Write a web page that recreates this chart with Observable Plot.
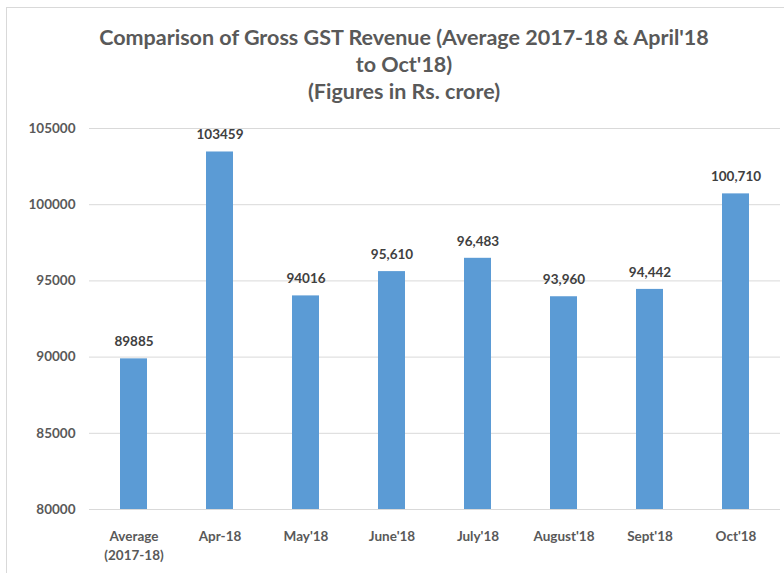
<!DOCTYPE html>
<html>
<head>
<meta charset="utf-8">
<script src="https://cdn.jsdelivr.net/npm/d3@7"></script>
<script src="https://cdn.jsdelivr.net/npm/@observablehq/plot@0.6"></script>
<style>
  html, body { margin: 0; padding: 0; background: #fff; }
  #frame { position: absolute; left: 6px; top: 7px; width: 800px; height: 600px; border-left: 1.5px solid #d9d9d9; border-top: 1.5px solid #d9d9d9; }
  #title { position: absolute; left: 0; top: 24px; width: 808px; text-align: center; font-family: Lato, sans-serif; font-weight: bold; font-size: 21.5px; line-height: 27px; color: #595959; }
  #chart { position: absolute; left: 0; top: 110px; }
</style>
</head>
<body>
<div id="frame"></div>
<div id="title">Comparison of Gross GST Revenue (Average 2017-18 &amp; April'18<br>to Oct'18)<br>(Figures in Rs. crore)</div>
<div id="chart"></div>
<script>
const categories = ["Average\n(2017-18)", "Apr-18", "May'18", "June'18", "July'18", "August'18", "Sept'18", "Oct'18"];
const values = [89885, 103459, 94016, 95610, 96483, 93960, 94442, 100710];
const valueLabels = ["89885", "103459", "94016", "95,610", "96,483", "93,960", "94,442", "100,710"];
const yTicks = [80000, 85000, 90000, 95000, 100000, 105000];

const data = categories.map((c, i) => ({category: c, value: values[i], label: valueLabels[i]}));

const chart = Plot.plot({
  width: 784,
  height: 463,
  marginLeft: 89,
  marginRight: 4,
  marginTop: 18,
  marginBottom: 64,
  style: {fontFamily: "Lato, sans-serif", fontSize: "13.5px", color: "#595959", background: "transparent"},
  x: {domain: categories, paddingInner: 0.69, paddingOuter: 0.345, label: null},
  y: {domain: [80000, 105000], label: null},
  marks: [
    Plot.gridY(yTicks, {stroke: "#d9d9d9", strokeOpacity: 1, strokeWidth: 1}),
    Plot.barY(data, {x: "category", y1: 80000, y2: "value", fill: "#5b9bd5"}),
    Plot.text(data, {x: "category", y: "value", text: "label", dy: -17, fill: "#404040", fontWeight: "bold", fontSize: 13.5}),
    Plot.axisX({tickSize: 0, tickPadding: 19, fontWeight: "bold", fill: "#595959", lineHeight: 1.35}),
    Plot.axisY({ticks: yTicks, tickFormat: d3.format("d"), tickSize: 0, tickPadding: 14, fontWeight: "bold", fill: "#595959"})
  ]
});
document.getElementById("chart").appendChild(chart);
</script>
</body>
</html>
